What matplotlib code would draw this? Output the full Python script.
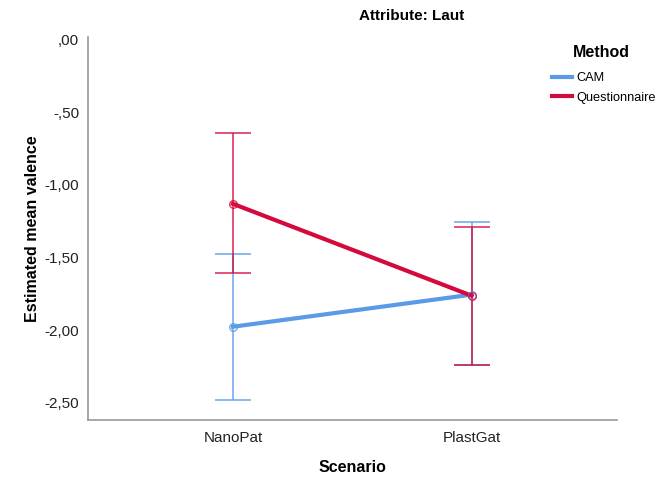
import matplotlib
matplotlib.use("Agg")
import matplotlib.pyplot as plt
from matplotlib.lines import Line2D
import numpy as np

plt.rcParams['font.family'] = ['Liberation Sans', 'DejaVu Sans']

# Estimated marginal means with 95% CI
scenarios = ["NanoPat", "PlastGat"]
methods = ["CAM", "Questionnaire"]
means = {
    "CAM": [-1.977, -1.756],
    "Questionnaire": [-1.13, -1.763],
}
ci_upper = {
    "CAM": [-1.474, -1.253],
    "Questionnaire": [-0.64, -1.288],
}
ci_lower = {
    "CAM": [-2.48, -2.238],
    "Questionnaire": [-1.605, -2.238],
}
colors = {"CAM": "#5A9BE8", "Questionnaire": "#D4093D"}
y_ticks = [0.0, -0.5, -1.0, -1.5, -2.0, -2.5]


def spss_fmt(v, _=None):
    s = f"{v:.2f}".replace(".", ",")
    if s.startswith("0,"):
        s = s[1:]
    elif s.startswith("-0,"):
        s = "-" + s[2:]
    return s


fig = plt.figure(figsize=(6.63, 4.82), dpi=100)
ax = fig.add_axes([87.5 / 663, 62 / 482, (617 - 87.5) / 663, (420 - 37) / 482])

x = np.arange(len(scenarios))
for m in methods:
    mu = np.array(means[m])
    lo = mu - np.array(ci_lower[m])
    hi = np.array(ci_upper[m]) - mu
    ax.errorbar(x, mu, yerr=[lo, hi], fmt='none', ecolor=colors[m], alpha=0.7,
                elinewidth=1.4, capsize=13, capthick=1.4, zorder=2)
    ax.plot(x, mu, color=colors[m], linewidth=3, zorder=3)
    ax.plot(x, mu, linestyle='none', marker='o', markersize=5.5,
            markerfacecolor='none', markeredgecolor=colors[m], alpha=0.8,
            markeredgewidth=1.0, zorder=4)

ax.set_xlim(-0.61, 1.61)
ax.set_ylim(-2.62, 0.02)
ax.set_xticks(x)
ax.set_xticklabels(scenarios, fontsize=11, color='#222222')
ax.set_yticks(y_ticks)
ax.yaxis.set_major_formatter(plt.FuncFormatter(spss_fmt))
ax.tick_params(axis='both', length=0, labelsize=11, labelcolor='#222222')
ax.tick_params(axis='x', pad=8)
ax.tick_params(axis='y', pad=6)

for side in ['top', 'right']:
    ax.spines[side].set_visible(False)
for side in ['left', 'bottom']:
    ax.spines[side].set_color('#999999')
    ax.spines[side].set_linewidth(1.2)

ax.set_xlabel("Scenario", fontsize=11.5, fontweight='bold', labelpad=11)
ax.set_ylabel("Estimated mean valence", fontsize=11.5, fontweight='bold', labelpad=3)

fig.text(412 / 663, 1 - 16 / 482, "Attribute: Laut", fontsize=11, fontweight='bold',
         ha='center', va='center')

# legend: title placed separately to match spacing
fig.text(601 / 663, 1 - 52 / 482, "Method", fontsize=11.5, fontweight='bold',
         ha='center', va='center')
handles = [Line2D([0], [0], color=colors[m], linewidth=3) for m in methods]
leg = fig.legend(handles, methods, loc='upper left', bbox_to_anchor=(547 / 663, 1 - 67 / 482),
                 frameon=False, fontsize=9.2, handlelength=1.55,
                 handletextpad=0.35, labelspacing=0.6, borderaxespad=0)

fig.savefig("out.png", dpi=100, facecolor='white')
